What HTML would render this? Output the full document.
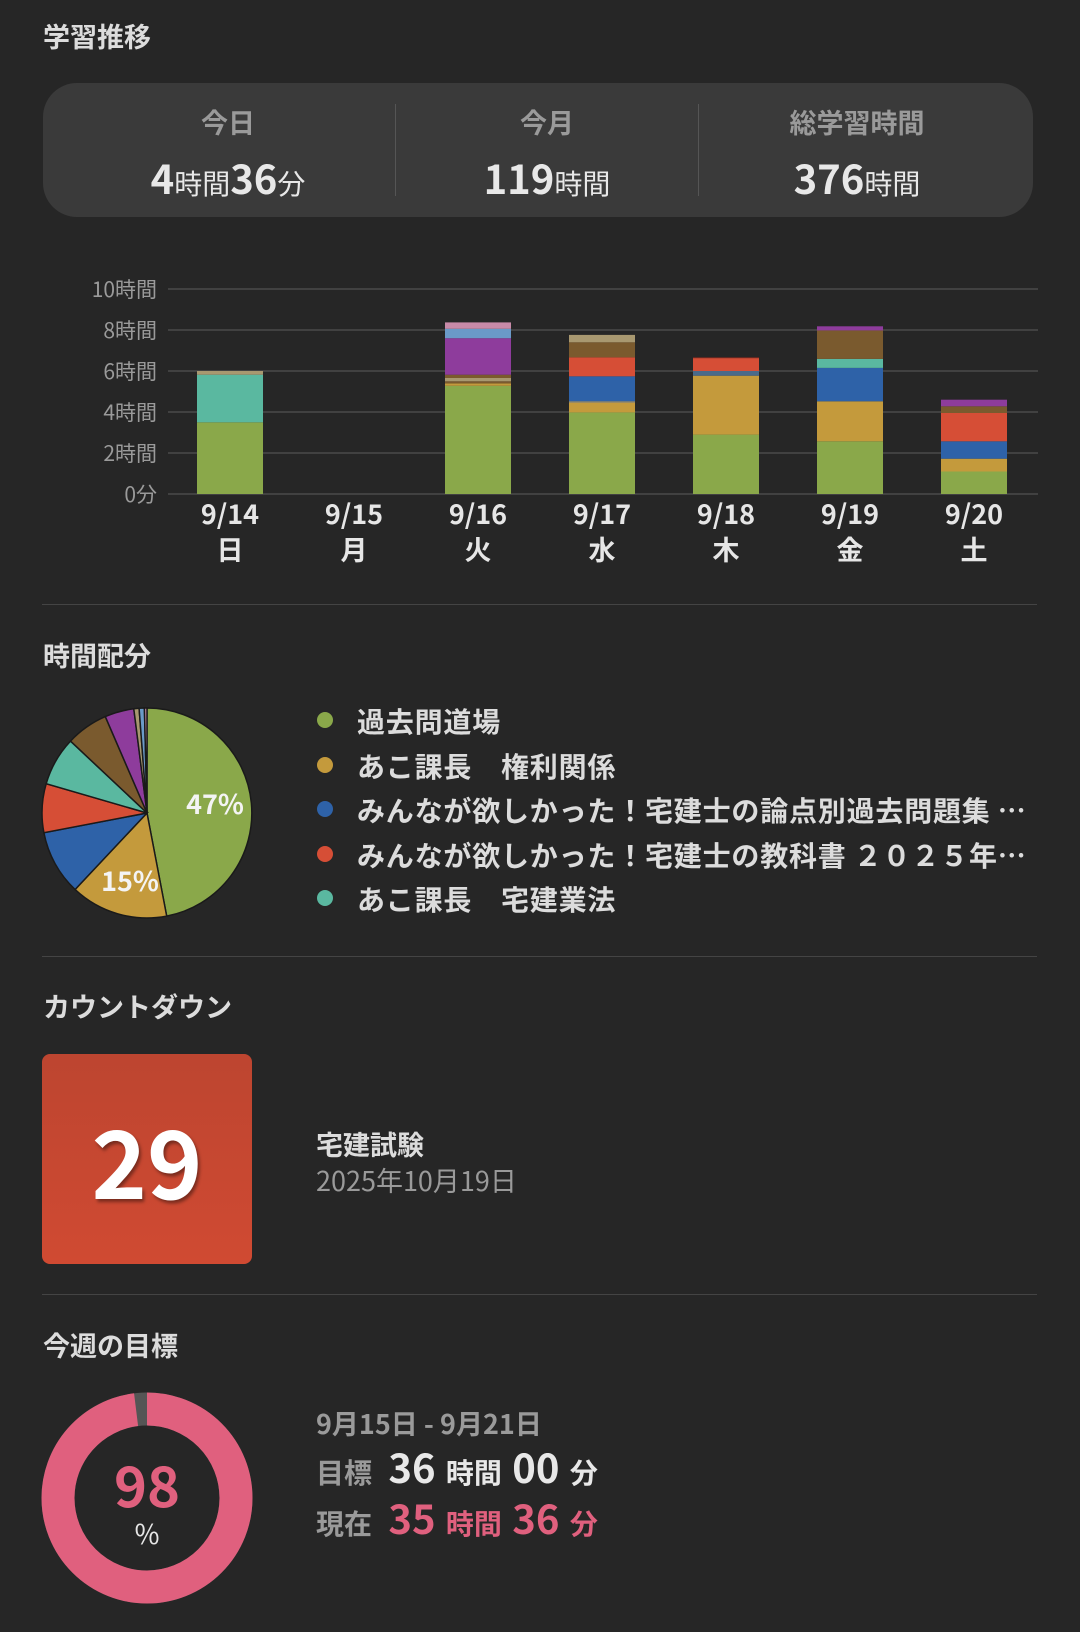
<!DOCTYPE html>
<html><head><meta charset="utf-8"><style>
*{margin:0;padding:0;box-sizing:border-box}
body{width:1080px;height:1632px;background:#262626;position:relative;overflow:hidden;font-family:"Noto Sans CJK JP","Liberation Sans",sans-serif;color:#e6e6e6;line-height:1.15}
.a{position:absolute;white-space:nowrap}
.h{font-size:27px;font-weight:bold;color:#dcdcdc}
.sep{position:absolute;left:42px;width:995px;height:1px;background:#444}
.lab{font-size:27px;font-weight:bold;color:#9a9a9a;transform:translateX(-50%)}
.val{font-size:40px;font-weight:bold;color:#e8e8e8;transform:translateX(-50%)}
.val small{font-size:28px;font-weight:normal}
.lg{font-size:28px;font-weight:bold;color:#dcdcdc;letter-spacing:0.8px}
.dot{position:absolute;width:16px;height:16px;border-radius:50%}
.g span{margin-left:4px}
</style></head><body>
<div class="a h" style="left:43px;top:20px">学習推移</div>
<div class="a" style="left:43px;top:83px;width:990px;height:134px;background:#3a3a3a;border-radius:34px"></div>
<div class="a" style="left:395px;top:104px;width:1px;height:92px;background:#555"></div>
<div class="a" style="left:698px;top:104px;width:1px;height:92px;background:#555"></div>
<div class="a lab" style="left:228px;top:106px">今日</div>
<div class="a lab" style="left:547px;top:106px">今月</div>
<div class="a lab" style="left:857px;top:106px">総学習時間</div>
<div class="a val" style="left:228px;top:154px">4<small>時間</small>36<small>分</small></div>
<div class="a val" style="left:547px;top:154px">119<small>時間</small></div>
<div class="a val" style="left:857px;top:154px">376<small>時間</small></div>

<svg class="a" style="left:0;top:0" width="1080" height="600">
<g stroke="#4a4a4a" stroke-width="1.5">
<line x1="168" x2="1038" y1="289" y2="289"/><line x1="168" x2="1038" y1="330" y2="330"/><line x1="168" x2="1038" y1="371" y2="371"/><line x1="168" x2="1038" y1="412" y2="412"/><line x1="168" x2="1038" y1="453" y2="453"/><line x1="168" x2="1038" y1="494" y2="494"/>
</g>
<g font-size="21" fill="#9a9a9a" text-anchor="end" font-family="Noto Sans CJK JP,Liberation Sans,sans-serif">
<text x="157" y="297">10時間</text><text x="157" y="338">8時間</text><text x="157" y="379">6時間</text><text x="157" y="420">4時間</text><text x="157" y="461">2時間</text><text x="157" y="502">0分</text>
</g>
<g>
<rect x="197" y="422.3" width="66" height="71.7" fill="#8aa84a"/><rect x="197" y="374.7" width="66" height="47.6" fill="#5ab8a0"/><rect x="197" y="371" width="66" height="3.7" fill="#a89870"/>
<rect x="445" y="385.8" width="66" height="108.2" fill="#8aa84a"/><rect x="445" y="383.3" width="66" height="2.5" fill="#c49a3c"/><rect x="445" y="381.3" width="66" height="2" fill="#7a5a2e"/><rect x="445" y="378" width="66" height="3.3" fill="#a89870"/><rect x="445" y="374.7" width="66" height="3.3" fill="#7a5a2e"/><rect x="445" y="338.2" width="66" height="36.5" fill="#8e3c9c"/><rect x="445" y="328.8" width="66" height="9.4" fill="#6a9ac8"/><rect x="445" y="322.4" width="66" height="6.4" fill="#c88aa8"/>
<rect x="569" y="412.4" width="66" height="81.6" fill="#8aa84a"/><rect x="569" y="402.8" width="66" height="9.6" fill="#c49a3c"/><rect x="569" y="401.3" width="66" height="1.5" fill="#a89870"/><rect x="569" y="376.3" width="66" height="25" fill="#2e62a8"/><rect x="569" y="357.3" width="66" height="19" fill="#d64e36"/><rect x="569" y="342.3" width="66" height="15" fill="#7a5a2e"/><rect x="569" y="334.9" width="66" height="7.4" fill="#a89870"/>
<rect x="693" y="434.6" width="66" height="59.4" fill="#8aa84a"/><rect x="693" y="375.7" width="66" height="58.9" fill="#c49a3c"/><rect x="693" y="371" width="66" height="4.7" fill="#4a6a8a"/><rect x="693" y="358.1" width="66" height="12.9" fill="#d64e36"/><rect x="693" y="357.3" width="66" height="0.8" fill="#7a2a20"/>
<rect x="817" y="441.3" width="66" height="52.7" fill="#8aa84a"/><rect x="817" y="401.3" width="66" height="40" fill="#c49a3c"/><rect x="817" y="367.9" width="66" height="33.4" fill="#2e62a8"/><rect x="817" y="358.9" width="66" height="9" fill="#5ab8a0"/><rect x="817" y="330.4" width="66" height="28.5" fill="#7a5a2e"/><rect x="817" y="326.3" width="66" height="4.1" fill="#8e3c9c"/>
<rect x="941" y="471.5" width="66" height="22.5" fill="#8aa84a"/><rect x="941" y="458.7" width="66" height="12.8" fill="#c49a3c"/><rect x="941" y="441.3" width="66" height="17.4" fill="#2e62a8"/><rect x="941" y="413" width="66" height="28.3" fill="#d64e36"/><rect x="941" y="406.3" width="66" height="6.7" fill="#7a5a2e"/><rect x="941" y="399.7" width="66" height="6.6" fill="#8e3c9c"/>
</g>
<g font-size="27" font-weight="bold" fill="#e6e6e6" text-anchor="middle" font-family="Noto Sans CJK JP,Liberation Sans,sans-serif">
<text x="230" y="524">9/14</text><text x="354" y="524">9/15</text><text x="478" y="524">9/16</text><text x="602" y="524">9/17</text><text x="726" y="524">9/18</text><text x="850" y="524">9/19</text><text x="974" y="524">9/20</text>
<text x="230" y="560">日</text><text x="354" y="560">月</text><text x="478" y="560">火</text><text x="602" y="560">水</text><text x="726" y="560">木</text><text x="850" y="560">金</text><text x="974" y="560">土</text>
</g>
</svg>
<div class="sep" style="top:604px"></div>

<div class="a h" style="left:43px;top:639px">時間配分</div>
<svg class="a" style="left:0;top:690px" width="300" height="250">
<g transform="translate(0,-690)" stroke="#1a1a1a" stroke-width="1.5">
<path d="M147 813 L147 708 A105 105 0 0 1 166.7 916.1Z" fill="#8aa84a"/>
<path d="M147 813 L166.7 916.1 A105 105 0 0 1 75.1 889.5Z" fill="#c49a3c"/>
<path d="M147 813 L75.1 889.5 A105 105 0 0 1 43.9 832.7Z" fill="#2e62a8"/>
<path d="M147 813 L43.9 832.7 A105 105 0 0 1 46.2 783.7Z" fill="#d64e36"/>
<path d="M147 813 L46.2 783.7 A105 105 0 0 1 70.5 741.1Z" fill="#5ab8a0"/>
<path d="M147 813 L70.5 741.1 A105 105 0 0 1 105.3 716.6Z" fill="#7a5a2e"/>
<path d="M147 813 L105.3 716.6 A105 105 0 0 1 133.8 708.8Z" fill="#8e3c9c"/>
<path d="M147 813 L133.8 708.8 A105 105 0 0 1 139.1 708.3Z" fill="#a89870"/>
<path d="M147 813 L139.1 708.3 A105 105 0 0 1 144.4 708Z" fill="#6a9ac8"/>
<path d="M147 813 L144.4 708 A105 105 0 0 1 147 708Z" fill="#c88aa8"/>
</g>
<g font-size="27" font-weight="bold" fill="#f4f4f4" text-anchor="middle" font-family="Noto Sans CJK JP,Liberation Sans,sans-serif">
<text x="215" y="124">47%</text><text x="130" y="201">15%</text>
</g>
</svg>
<div class="dot" style="left:317px;top:712px;background:#8aa84a"></div>
<div class="dot" style="left:317px;top:757px;background:#c49a3c"></div>
<div class="dot" style="left:317px;top:801px;background:#2e62a8"></div>
<div class="dot" style="left:317px;top:846px;background:#d64e36"></div>
<div class="dot" style="left:317px;top:890px;background:#5ab8a0"></div>
<div class="a lg" style="left:357px;top:705px">過去問道場</div>
<div class="a lg" style="left:357px;top:750px">あこ課長　権利関係</div>
<div class="a lg" style="left:357px;top:794px">みんなが欲しかった！宅建士の論点別過去問題集 …</div>
<div class="a lg" style="left:357px;top:839px">みんなが欲しかった！宅建士の教科書 ２０２５年…</div>
<div class="a lg" style="left:357px;top:883px">あこ課長　宅建業法</div>
<div class="sep" style="top:956px"></div>

<div class="a h" style="left:43px;top:990px">カウントダウン</div>
<div class="a" style="left:42px;top:1054px;width:210px;height:210px;border-radius:8px;background:linear-gradient(#bd4530,#d04a32);"></div>
<div class="a" style="left:42px;top:1104px;width:210px;text-align:center;font-size:94px;font-weight:bold;color:#fff;line-height:110px;text-shadow:2px 3px 3px rgba(0,0,0,.4)">29</div>
<div class="a" style="left:316px;top:1128px;font-size:27px;font-weight:bold;color:#dcdcdc">宅建試験</div>
<div class="a" style="left:316px;top:1164px;font-size:27px;color:#9a9a9a">2025年10月19日</div>
<div class="sep" style="top:1294px"></div>

<div class="a h" style="left:43px;top:1329px">今週の目標</div>
<svg class="a" style="left:0;top:1390px" width="300" height="220">
<circle cx="147" cy="108" r="89" fill="none" stroke="#555" stroke-width="33"/>
<circle cx="147" cy="108" r="89" fill="none" stroke="#e0607e" stroke-width="33" stroke-dasharray="548 600" transform="rotate(-90 147 108)"/>
<text x="147" y="117" text-anchor="middle" font-size="56" font-weight="bold" fill="#e0607e" font-family="Noto Sans CJK JP,Liberation Sans,sans-serif">98</text>
<text x="147" y="154" text-anchor="middle" font-size="27" fill="#e6e6e6" font-family="Noto Sans CJK JP,Liberation Sans,sans-serif">%</text>
</svg>
<div class="a" style="left:316px;top:1407px;font-size:27px;font-weight:bold;color:#9a9a9a">9月15日 - 9月21日</div>
<div class="a g" style="left:316px;top:1443px;font-size:28px;font-weight:bold;color:#9a9a9a">目標 <span style="color:#e8e8e8;font-size:40px;margin-left:10px">36</span> <span style="color:#e8e8e8">時間</span> <span style="color:#e8e8e8;font-size:40px">00</span> <span style="color:#e8e8e8">分</span></div>
<div class="a g" style="left:316px;top:1494px;font-size:28px;font-weight:bold;color:#9a9a9a">現在 <span style="color:#e0607e;font-size:40px;margin-left:10px">35</span> <span style="color:#e0607e">時間</span> <span style="color:#e0607e;font-size:40px">36</span> <span style="color:#e0607e">分</span></div>
</body></html>
